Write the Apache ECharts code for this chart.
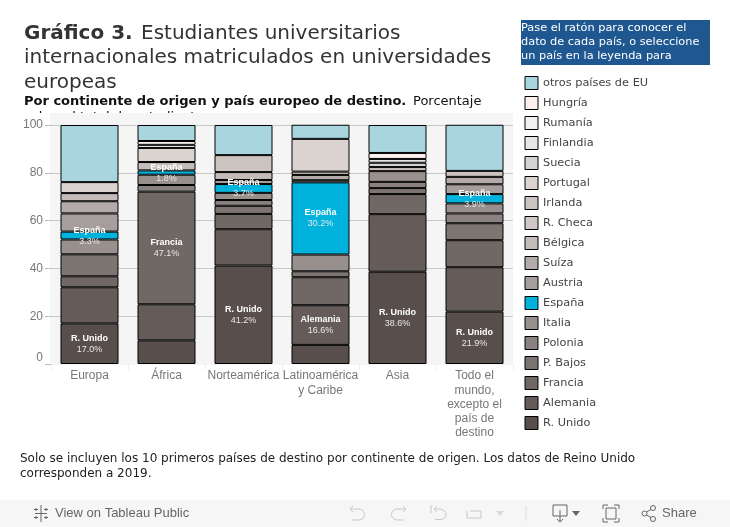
<!DOCTYPE html>
<html>
<head>
<meta charset="utf-8">
<style>html,body{margin:0;padding:0;background:#fff}#c{width:730px;height:527px}</style>
<script src="https://cdn.jsdelivr.net/npm/echarts@6/dist/echarts.min.js"></script>
</head>
<body>
<div id="c"></div>
<script>
const categories = ['Europa','África','Norteamérica','Latinoamérica\ny Caribe','Asia','Todo el\nmundo,\nexcepto el\npaís de\ndestino'];
const yTicks = [0,20,40,60,80,100];

// value per category, in the order of `categories`; null = not among that continent's top 10
const rUnido    = [17.0,  9.9, 41.2,  8.0, 38.6, 21.9];
const alemania  = [15.1, 15.1, 15.2, 16.6, 24.1, 18.6];
const francia   = [ 4.6, 47.1,  6.4, 11.7,  8.4, 11.3];
const pBajos    = [ 9.2, null,  3.4,  2.5,  2.5,  7.1];
const polonia   = [null,  2.8,  2.4, null,  2.6,  4.1];
const italia    = [ 6.2,  4.3,  3.0,  7.0,  4.5,  4.2];
const espana    = [ 3.3,  1.8,  3.7, 30.2, null,  3.9];
const austria   = [ 7.6, null,  1.7,  0.9, null,  4.1];
const suiza     = [ 5.1, null, null,  2.2, null,  3.1];
const belgica   = [ 3.4,  3.5,  3.3,  1.4, null, null];
const rCheca    = [null, null, null, null, null, null];
const irlanda   = [null, null,  7.1, null,  1.7,  2.5];
const portugal  = [ 4.6,  5.9, null, 13.7, null, null];
const suecia    = [null, null, null, null,  1.8, null];
const finlandia = [null, null, null, null,  1.6, null];
const rumania   = [null,  1.3, null, null, null, null];
const hungria   = [null,  1.6, null, null,  2.5, null];
const otros     = [23.9,  6.7, 12.6,  5.9, 11.7, 19.3];

const seriesNames  = ['R. Unido','Alemania','Francia','P. Bajos','Polonia','Italia','España','Austria','Suíza','Bélgica','R. Checa','Irlanda','Portugal','Suecia','Finlandia','Rumanía','Hungría','otros países de EU'];
const seriesValues = [rUnido,alemania,francia,pBajos,polonia,italia,espana,austria,suiza,belgica,rCheca,irlanda,portugal,suecia,finlandia,rumania,hungria,otros];
const seriesColors = ['#584f4c','#655c59','#706865','#7d7572','#8a8280','#98908d','#00b2dc','#a59e9c','#b3aba9','#c3bcb9','#cfc8c6','#cbc4c0','#dad3d0','#d3d3d3','#e6e6e6','#f1f1f1','#fbf0ee','#a9d6de'];
const labelledCategories = {'R. Unido':[0,2,4,5],'Alemania':[3],'Francia':[1],'España':[0,1,2,3,5]};

const sans = '"DejaVu Sans"';
const arial = '"Liberation Sans"';
const footerGrey = '#c8c8c8';
const footerDark = '#666';

function line(x1,y1,x2,y2,stroke,w){return {type:'line',z:5,shape:{x1,y1,x2,y2},style:{stroke:stroke||footerGrey,lineWidth:w||1,fill:null},silent:true};}
function poly(points,stroke){return {type:'polyline',z:5,shape:{points},style:{stroke:stroke||footerGrey,lineWidth:1,fill:null},silent:true};}
function arc(cx,cy,r,a,b,stroke){return {type:'arc',z:5,shape:{cx,cy,r,startAngle:a,endAngle:b},style:{stroke:stroke||footerGrey,lineWidth:1,fill:null},silent:true};}
function txt(x,y,text,font,size,fill,weight,z){return {type:'text',z:z===undefined?5:z,x,y,silent:true,style:{text,fontFamily:font,fontSize:size,fill,fontWeight:weight||'normal'}};}

const graphics = [
  // title block
  txt(24,24,'Gráfico 3.',sans,20,'#333','bold'),
  txt(141,24,'Estudiantes universitarios',sans,20,'#333'),
  txt(24,48,'internacionales matriculados en universidades',sans,20,'#333'),
  txt(24,73,'europeas',sans,20,'#333'),
  txt(24,95,'Por continente de origen y país europeo de destino.',sans,13,'#111','bold'),
  txt(413,95,'Porcentaje',sans,13,'#111'),
  txt(24,111,'sobre el total de estudiantes',sans,13,'#111','normal',-3),
  // white strip and chart pane hide the clipped second subtitle line
  {type:'rect',z:-1,shape:{x:0,y:113,width:515,height:14},style:{fill:'#fff'},silent:true},
  {type:'rect',z:0,shape:{x:50,y:113,width:463,height:252},style:{fill:'#f5f5f5'},silent:true},
  // hint box
  {type:'rect',z:-2,shape:{x:521,y:20,width:189,height:45},style:{fill:'#1f5791'},silent:true},
  txt(521,23,'Pase el ratón para conocer el',sans,11.33,'#fff','normal',-1),
  txt(521,37,'dato de cada país, o seleccione',sans,11.33,'#fff','normal',-1),
  txt(521,51,'un país en la leyenda para',sans,11.33,'#fff','normal',-1),
  txt(521,65,'aislar sus datos',sans,11.33,'#fff','normal',-1),
  {type:'rect',z:0,shape:{x:515,y:65,width:215,height:11},style:{fill:'#fff'},silent:true},
  // note
  txt(20,453,'Solo se incluyen los 10 primeros países de destino por continente de origen. Los datos de Reino Unido',sans,12,'#222'),
  txt(20,468,'corresponden a 2019.',sans,12,'#222'),
  // toolbar
  {type:'rect',z:-2,shape:{x:0,y:500,width:730,height:27},style:{fill:'#f6f6f6'},silent:true},
  line(41,505,41,522,footerDark), line(35,513.5,47,513.5,footerDark),
  line(36,508,36,511,footerDark), line(46,508,46,511,footerDark), line(36,516,36,519,footerDark), line(46,516,46,519,footerDark),
  line(34,509.5,38,509.5,footerDark), line(44,509.5,48,509.5,footerDark), line(34,517.5,38,517.5,footerDark), line(44,517.5,48,517.5,footerDark),
  txt(55,507,'View on Tableau Public',arial,13,footerDark),
  poly([[350,509],[359,509]]), arc(359,514.5,5.5,-Math.PI/2,Math.PI/2), poly([[359,520],[352,520]]), poly([[353,506],[350,509],[353,512]]),
  poly([[406,509],[397,509]]), arc(397,514.5,5.5,Math.PI/2,Math.PI*1.5), poly([[397,520],[404,520]]), poly([[403,506],[406,509],[403,512]]),
  line(431,505,431,513), poly([[434,509],[441,509]]), arc(441,514.5,5,-Math.PI/2,Math.PI/2), poly([[441,519.5],[435,519.5]]), poly([[437,506],[434,509],[437,512]]),
  poly([[467,511],[467,518],[481,518],[481,511],[470,511]]),
  {type:'polygon',z:5,shape:{points:[[496,511],[504,511],[500,516]]},style:{fill:'#d8d8d8'},silent:true},
  line(526,506,526,521,'#ddd'),
  poly([[553,505],[567,505],[567,516],[553,516],[553,505]],footerDark), line(560,510,560,522,footerDark), poly([[557,519],[560,522],[563,519]],footerDark),
  {type:'polygon',z:5,shape:{points:[[572,511],[580,511],[576,516]]},style:{fill:footerDark},silent:true},
  poly([[603,509],[603,505],[608,505]],footerDark), poly([[614,505],[619,505],[619,509]],footerDark), poly([[603,518],[603,522],[608,522]],footerDark), poly([[614,522],[619,522],[619,518]],footerDark),
  {type:'rect',z:5,shape:{x:606,y:508,width:10,height:11},style:{stroke:footerDark,fill:null},silent:true},
  {type:'circle',z:5,shape:{cx:644.5,cy:513.5,r:2.5},style:{stroke:footerDark,fill:null},silent:true},
  {type:'circle',z:5,shape:{cx:653,cy:508,r:2.5},style:{stroke:footerDark,fill:null},silent:true},
  {type:'circle',z:5,shape:{cx:653,cy:519,r:2.5},style:{stroke:footerDark,fill:null},silent:true},
  line(646.5,512,651,509.5,footerDark), line(646.5,515,651,517.5,footerDark),
  txt(662,507,'Share',arial,13,footerDark)
];

const series = seriesNames.map((name,i)=>({
  name, type:'bar', stack:'total', barWidth:58, z:3,
  data: seriesValues[i],
  itemStyle:{color:seriesColors[i],borderColor:'#000',borderWidth:1},
  emphasis:{disabled:true},
  label:{
    show:!!labelledCategories[name], position:'inside', color:'#fff',
    formatter:p=> (labelledCategories[name]||[]).includes(p.dataIndex) && p.value!=null ? '{n|'+name+'}\n{v|'+p.value.toFixed(1)+'%}' : '',
    rich:{
      n:{fontFamily:arial,fontSize:9,fontWeight:'bold',color:'#fff',lineHeight:11},
      v:{fontFamily:arial,fontSize:9,color:'#e8e8e8',lineHeight:11}
    }
  }
}));

const chart = echarts.init(document.getElementById('c'),null,{renderer:'canvas'});
chart.setOption({
  animation:false,
  backgroundColor:'#fff',
  graphic:{elements:graphics},
  legend:{
    orient:'vertical', left:524.5, top:75, padding:0, itemWidth:13, itemHeight:13, itemGap:4,
    icon:'rect', selectedMode:false,
    itemStyle:{borderColor:'#000',borderWidth:1},
    data:seriesNames.slice().reverse(),
    textStyle:{fontFamily:sans,fontSize:11.33,color:'#444',lineHeight:13,height:13,padding:[3,0,0,0]}
  },
  grid:{left:51,top:125,width:462,height:239},
  xAxis:{
    type:'category', data:categories, z:1,
    axisLine:{show:false},
    axisTick:{show:true,length:6,lineStyle:{color:'#eeeeee'}},
    axisLabel:{interval:0,margin:5,fontFamily:arial,fontSize:12,color:'#777',lineHeight:14.2,verticalAlign:'top'},
    splitLine:{show:false}
  },
  yAxis:{
    type:'value', min:yTicks[0], max:yTicks[yTicks.length-1], interval:yTicks[1]-yTicks[0], z:1,
    axisLine:{show:false},
    axisTick:{show:true,length:6,lineStyle:{color:'#bbb'}},
    axisLabel:{margin:8,fontFamily:arial,fontSize:12,color:'#777',verticalAlignMinLabel:'bottom'},
    splitLine:{show:true,showMinLine:false,lineStyle:{color:'#c8c8c8',width:1}}
  },
  series
});
</script>
</body>
</html>
